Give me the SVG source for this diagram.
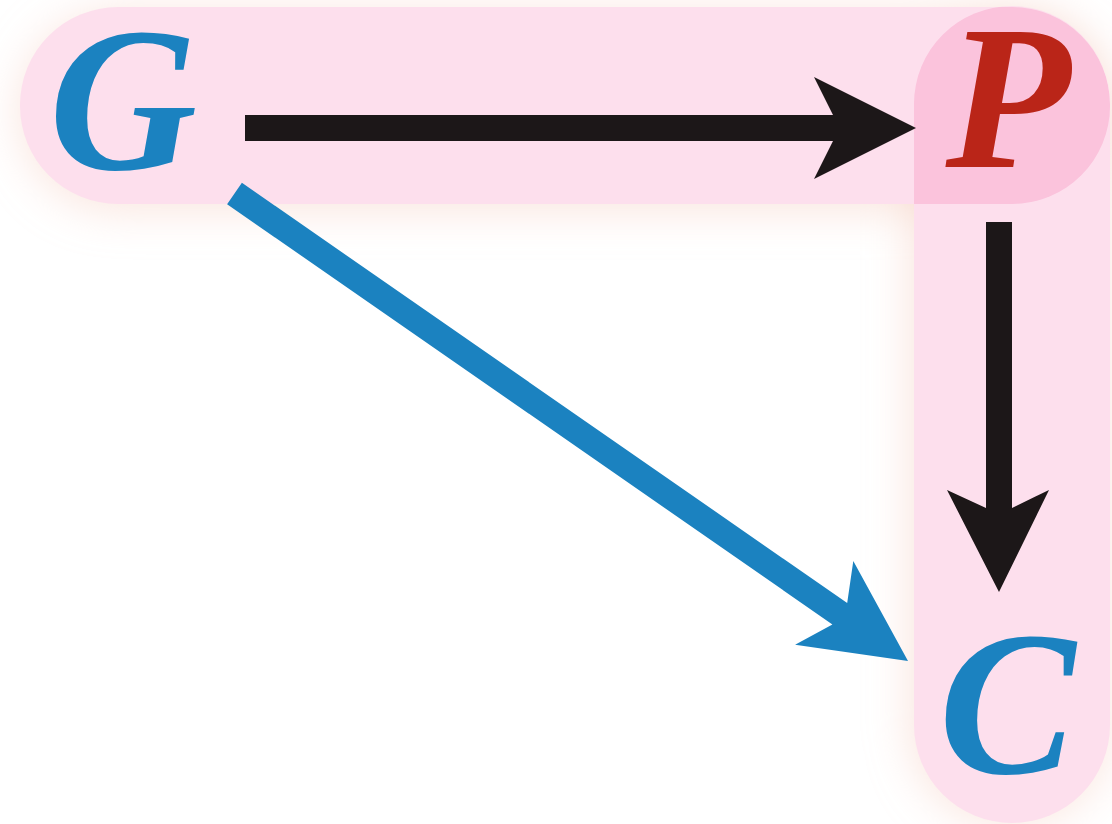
<svg xmlns="http://www.w3.org/2000/svg" width="1112" height="824" viewBox="0 0 1112 824">
  <defs>
    <filter id="soft" x="-20%" y="-40%" width="140%" height="180%">
      <feGaussianBlur stdDeviation="22"/>
    </filter>
    <style>
      .band { fill: #fddfed; mix-blend-mode: multiply; }
      .halo { fill: #f6cbbd; opacity: 0.5; }
      .var { font-family: "Liberation Serif", "Times New Roman", serif; font-weight: bold; font-style: italic; font-size: 205px; text-anchor: middle; }
      .blue { fill: #1b82c0; }
      .red { fill: #ba2518; }
      .dark { fill: #1c1718; }
    </style>
  </defs>

  <rect width="1112" height="824" fill="#ffffff"/>

  <!-- soft glow under the grouping bands -->
  <g id="halo" filter="url(#soft)">
    <rect class="halo" x="20" y="12" width="1090" height="198" rx="98"/>
    <rect class="halo" x="910" y="12" width="200" height="812" rx="98"/>
  </g>

  <!-- grouping bands: G-P row and P-C column -->
  <g id="bands" style="isolation:isolate">
    <rect class="band" x="20" y="7" width="1090" height="197" rx="98"/>
    <rect class="band" x="914" y="6" width="196" height="817" rx="98"/>
  </g>

  <!-- connectors -->
  <g id="connectors">
    <polygon id="edge-G-P" class="dark" points="245,115 833,115 814,77 916,128 814,179 833,141 245,141"/>
    <polygon id="edge-P-C" class="dark" points="986,222 1012,222 1012,508 1049,490 999,592 947,490 986,508"/>
    <polygon id="edge-G-C" class="blue" points="241.9,182.8 847.2,603.0 853.3,560.9 908,661 795.1,644.7 832.4,624.4 227.1,204.2"/>
  </g>

  <g id="node-G"><text class="var blue" x="123" y="169">G</text></g>
  <g id="node-P"><text class="var red" x="1008" y="167">P</text></g>
  <g id="node-C"><text class="var blue" x="1007" y="773">C</text></g>
</svg>
